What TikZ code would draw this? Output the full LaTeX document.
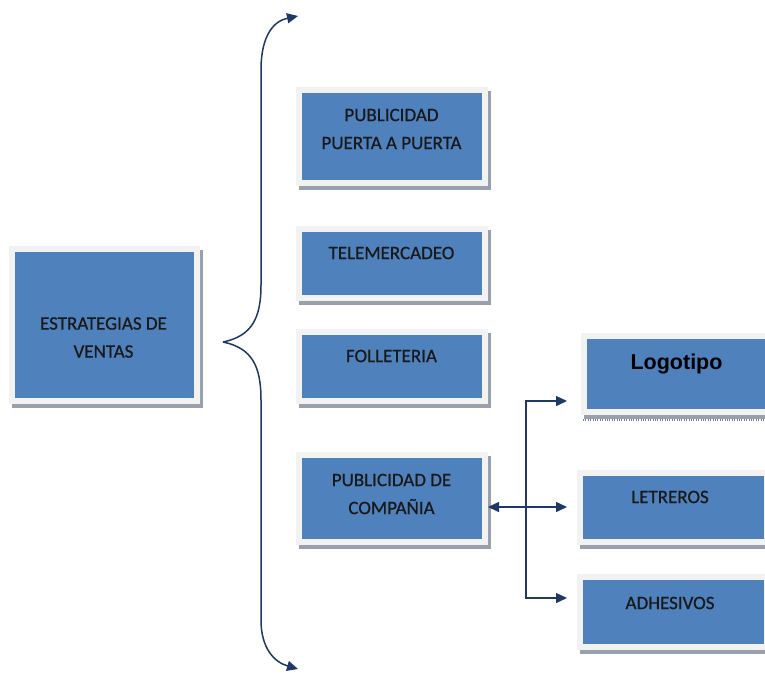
\documentclass[tikz,border=0pt]{standalone}
\usepackage{fontspec}
\setmainfont{Carlito}
\newfontfamily\cajafont[FakeBold=0.6]{Carlito}
\newfontfamily\logofont{Liberation Sans}
\usetikzlibrary{arrows.meta,shadows}
\definecolor{azul}{RGB}{79,129,189}
\definecolor{marco}{RGB}{242,242,242}
\definecolor{sombra}{RGB}{152,160,172}
\definecolor{tinta}{RGB}{31,56,100}

\begin{document}
\begin{tikzpicture}[x=1pt,y=-1pt]
			\tikzstyle{caja} = [rectangle, fill=azul, draw=marco, line width=6pt, inner sep=0pt, drop shadow={shadow xshift=3pt, shadow yshift=-4pt, fill=sombra, draw=sombra, line width=6pt, opacity=1}]
			\tikzstyle{rotulo} = [align=center, text=black!90, font=\cajafont\fontsize{19}{28}\selectfont, inner sep=0pt]
			\tikzstyle{es} = [draw=tinta, line width=1.5pt, -{Triangle[length=11pt,width=10pt]}]
			\useasboundingbox (0,0) rectangle (765,673);
			\node[caja, minimum width=185pt, minimum height=152pt] (estr) at (104.5,325) {};
			\node[caja, minimum width=186pt, minimum height=93pt] (puerta) at (392,136.5) {};
			\node[caja, minimum width=186pt, minimum height=69pt] (tele) at (392,263.5) {};
			\node[caja, minimum width=186pt, minimum height=69pt] (foll) at (392,366.5) {};
			\node[caja, minimum width=186pt, minimum height=87pt] (comp) at (392,498.5) {};
			\node[caja, minimum width=190pt, minimum height=76pt] (logo) at (679,374) {};
			\node[caja, minimum width=187pt, minimum height=69pt] (letr) at (673.5,507.5) {};
			\node[caja, minimum width=187pt, minimum height=70pt] (adhe) at (673.5,612) {};
			\draw[gray, line width=1.2pt, dash pattern=on 0.8pt off 1.6pt] (583,420) -- (765,420);
			\node[rotulo] (t1) at (103.5,337.5) {ESTRATEGIAS DE\\VENTAS};
			\node[rotulo] (t2) at (391.5,129) {PUBLICIDAD\\PUERTA A PUERTA};
			\node[rotulo] (t3) at (391.5,253) {TELEMERCADEO};
			\node[rotulo] (t4) at (391.5,356) {FOLLETERIA};
			\node[rotulo] (t5) at (391.5,494) {PUBLICIDAD DE\\COMPAÑIA};
			\node[rotulo, font=\logofont\bfseries\fontsize{21.5}{24}\selectfont, text=black] (t6) at (676.5,364) {Logotipo};
			\node[rotulo] (t7) at (670,497) {LETREROS};
			\node[rotulo] (t8) at (670,603) {ADHESIVOS};
			\coordinate (pico) at (223,342);
			\coordinate (arriba) at (298,16);
			\coordinate (abajo) at (298,669);
			\draw[es] (pico) .. controls (252,336) and (261,318) .. (261,285) -- (261,70) .. controls (261,35) and (274,21) .. (arriba);
			\draw[es] (pico) .. controls (252,348) and (261,366) .. (261,400) -- (261,620) .. controls (261,648) and (274,662) .. (abajo);
			\coordinate (j) at (526,507);
			\coordinate (c1) at (567,401);
			\coordinate (c2) at (567,507);
			\coordinate (c3) at (567,598);
			\draw[es] (j) -- (comp.east |- j);
			\draw[es] (j) -- (c2);
			\draw[es] (j) |- (c1);
			\draw[es] (j) |- (c3);
		\end{tikzpicture}
\end{document}
